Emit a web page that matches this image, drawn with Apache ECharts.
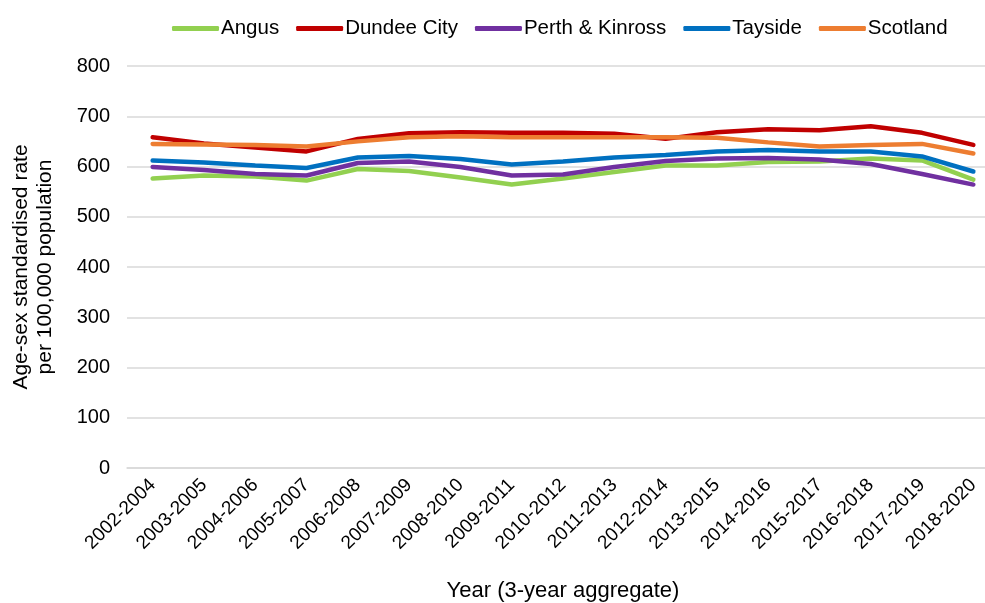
<!DOCTYPE html>
<html>
<head>
<meta charset="utf-8">
<script src="https://cdn.jsdelivr.net/npm/echarts@6/dist/echarts.min.js"></script>
<style>html,body{margin:0;padding:0;background:#fff;}#c{width:985px;height:603px;}</style>
</head>
<body>
<div id="c"></div>
<script>
const categories = ['2002-2004','2003-2005','2004-2006','2005-2007','2006-2008','2007-2009','2008-2010','2009-2011','2010-2012','2011-2013','2012-2014','2013-2015','2014-2016','2015-2017','2016-2018','2017-2019','2018-2020'];
const angus     = [576, 582, 580, 572, 595, 591, 578, 564, 576, 589, 602, 602, 609, 610, 616, 612, 574];
const dundee    = [658, 646, 638, 630, 655, 666, 668, 667, 667, 665, 655, 668, 674, 672, 680, 667, 643];
const perth     = [599, 593, 585, 582, 607, 610, 599, 582, 584, 599, 611, 616, 617, 614, 605, 585, 564];
const tayside   = [612, 608, 602, 597, 618, 621, 615, 604, 610, 618, 623, 630, 633, 630, 630, 620, 590];
const scotland  = [645, 644, 643, 640, 650, 658, 660, 658, 658, 658, 658, 657, 648, 640, 643, 645, 626];
const yTicks = [0, 100, 200, 300, 400, 500, 600, 700, 800];

const names = ['Angus','Dundee City','Perth & Kinross','Tayside','Scotland'];
const colors = ['#92D050','#C00000','#7030A0','#0070C0','#ED7D31'];
const datas = [angus, dundee, perth, tayside, scotland];

const chart = echarts.init(document.getElementById('c'));
chart.setOption({
  animation: false,
  textStyle: {fontFamily: 'Liberation Sans, Arial, sans-serif'},
  legend: {
    top: 13, left: 167,
    itemWidth: 47, itemHeight: 5, itemGap: 17,
    icon: 'roundRect',
    textStyle: {fontSize: 20.5, color: '#000', padding: [0,0,0,-3]},
    data: names
  },
  grid: {left: 127, top: 66, width: 872, height: 402, outerBoundsMode: 'none', containLabel: false},
  xAxis: {
    type: 'category', data: categories, boundaryGap: true,
    name: 'Year (3-year aggregate)', nameLocation: 'middle', nameGap: 112,
    nameTextStyle: {fontSize: 22, color: '#000'},
    axisLine: {lineStyle: {color: '#d9d9d9', width: 1.5}},
    axisTick: {show: false},
    axisLabel: {rotate: 45, fontSize: 19, color: '#000', interval: 0, margin: 14}
  },
  yAxis: {
    type: 'value', min: yTicks[0], max: yTicks[yTicks.length-1], interval: 100,
    name: 'Age-sex standardised rate\nper 100,000 population', nameLocation: 'middle', nameGap: 70,
    nameTextStyle: {fontSize: 21, color: '#000', lineHeight: 24},
    axisLine: {show: false}, axisTick: {show: false},
    axisLabel: {fontSize: 20, color: '#000', margin: 17},
    splitLine: {lineStyle: {color: '#d9d9d9', width: 1.5}}
  },
  series: datas.map((d, i) => ({
    name: names[i], type: 'line', data: d, symbol: 'none',
    lineStyle: {width: 4.5, color: colors[i], cap: 'round'},
    itemStyle: {color: colors[i]}
  }))
});
</script>
</body>
</html>
